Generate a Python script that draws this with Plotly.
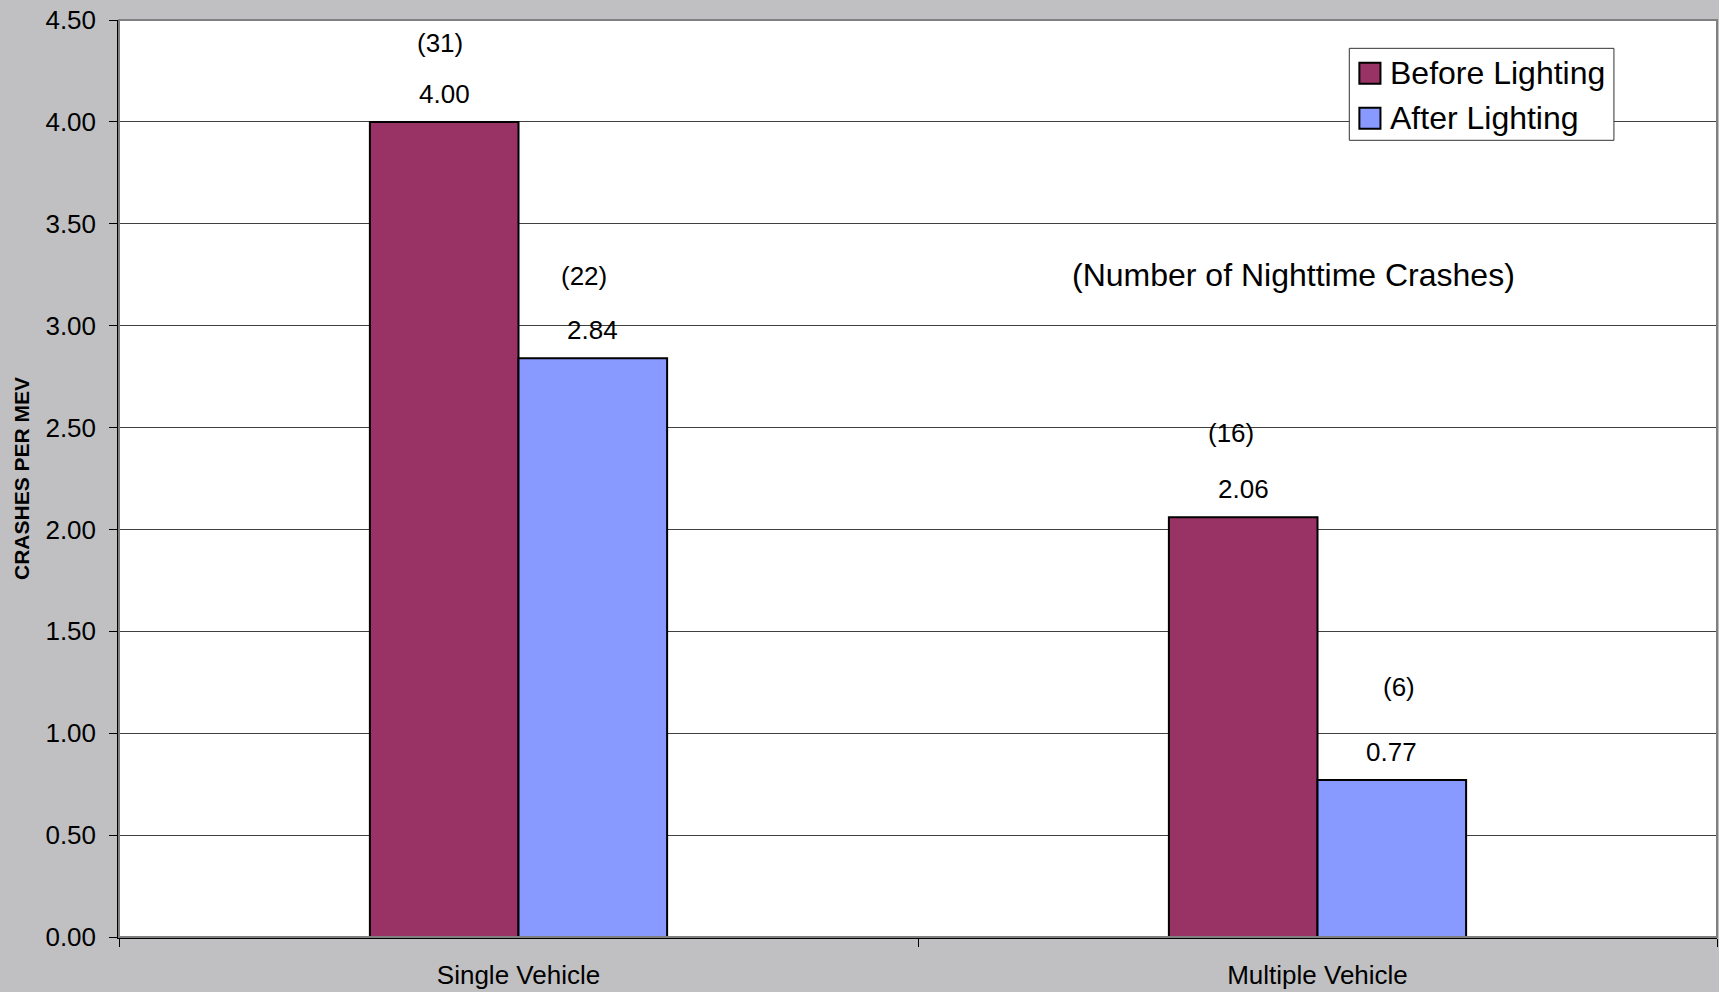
import plotly.graph_objects as go

# Crash rates per million entering vehicles, before and after lighting
categories = ["Single Vehicle", "Multiple Vehicle"]
series_names = ["Before Lighting", "After Lighting"]
before_rate = [4.00, 2.06]
after_rate = [2.84, 0.77]
before_crashes = [31, 16]
after_crashes = [22, 6]
y_ticks = [0.0, 0.5, 1.0, 1.5, 2.0, 2.5, 3.0, 3.5, 4.0, 4.5]

BEFORE_COLOR = "#993366"
AFTER_COLOR = "#8899FF"
FONT = "Liberation Sans, Arial, sans-serif"
BARGAP = 0.628

fig = go.Figure()
for name, rates, color in zip(series_names, [before_rate, after_rate],
                              [BEFORE_COLOR, AFTER_COLOR]):
    fig.add_trace(go.Bar(
        x=categories, y=rates, name=name, showlegend=False,
        marker=dict(color=color, line=dict(color="black", width=2)),
    ))

# bar centres within each category group (two bars, no group gap)
half = (1 - BARGAP) / 4
series = [(before_rate, before_crashes, -half), (after_rate, after_crashes, half)]

# pixel nudges for the crash-count text boxes (series, category)
count_shift = {
    (0, 0): (-4, 79), (0, 1): (-12, 84),
    (1, 0): (-9, 82), (1, 1): (7, 93),
}

annotations = []
for s, (rates, counts, off) in enumerate(series):
    for i, (v, n) in enumerate(zip(rates, counts)):
        annotations.append(dict(
            x=i + off, y=v, xref="x", yref="y", text=f"{v:.2f}",
            showarrow=False, yanchor="middle", yshift=28,
            font=dict(family=FONT, size=26, color="black"),
        ))
        dx, dy = count_shift[(s, i)]
        annotations.append(dict(
            x=i + off, y=v, xref="x", yref="y", text=f"({n})",
            showarrow=False, yanchor="middle", xshift=dx, yshift=dy,
            font=dict(family=FONT, size=26, color="black"),
        ))

annotations.append(dict(
    x=0.735, y=0.722, xref="paper", yref="paper",
    text="(Number of Nighttime Crashes)", showarrow=False,
    xanchor="center", yanchor="middle",
    font=dict(family=FONT, size=32, color="black"),
))

# boxed legend with large square swatches
shapes = [dict(
    type="rect", xref="paper", yref="paper", x0=0, x1=1, y0=0, y1=1,
    line=dict(color="#808080", width=2), layer="above",
)]
shapes.append(dict(
    type="rect", xref="paper", yref="paper",
    x0=0.7699, x1=0.9355, y0=0.8688, y1=0.9691,
    fillcolor="white", line=dict(color="#333333", width=1), layer="above",
))
row_y = [0.9419, 0.8928]
sw_h = 0.01145
for name, color, ry in zip(series_names, [BEFORE_COLOR, AFTER_COLOR], row_y):
    shapes.append(dict(
        type="rect", xref="paper", yref="paper",
        x0=0.7762, x1=0.7894, y0=ry - sw_h, y1=ry + sw_h,
        fillcolor=color, line=dict(color="black", width=2), layer="above",
    ))
    annotations.append(dict(
        x=0.7941, y=ry, xref="paper", yref="paper", text=name,
        showarrow=False, xanchor="left", yanchor="middle",
        font=dict(family=FONT, size=32, color="black"),
    ))

fig.update_layout(
    width=1719, height=992,
    margin=dict(l=119, r=2, t=20, b=55),
    paper_bgcolor="#C0C0C2",
    plot_bgcolor="white",
    barmode="group", bargap=BARGAP, bargroupgap=0,
    font=dict(family=FONT, color="black"),
    annotations=annotations,
    shapes=shapes,
)

fig.update_xaxes(
    type="category", range=[-0.5, 1.5],
    showgrid=False, showline=True, linecolor="black", linewidth=2,
    ticks="outside", tickson="boundaries", ticklen=8, tickcolor="black",
    tickfont=dict(family=FONT, size=26, color="black"),
    ticklabelstandoff=14,
)
fig.update_yaxes(
    range=[0, 4.5], tickvals=y_ticks, tickformat=".2f",
    showgrid=True, gridcolor="#404040", gridwidth=1,
    showline=True, linecolor="black", linewidth=1.5,
    ticks="outside", ticklen=8, tickcolor="black",
    tickfont=dict(family=FONT, size=26, color="black"),
    ticklabelstandoff=8,
    zeroline=False,
    title=dict(text="<b>CRASHES PER MEV</b>", standoff=10,
               font=dict(family=FONT, size=21, color="black")),
)

fig.write_html("out.html")
